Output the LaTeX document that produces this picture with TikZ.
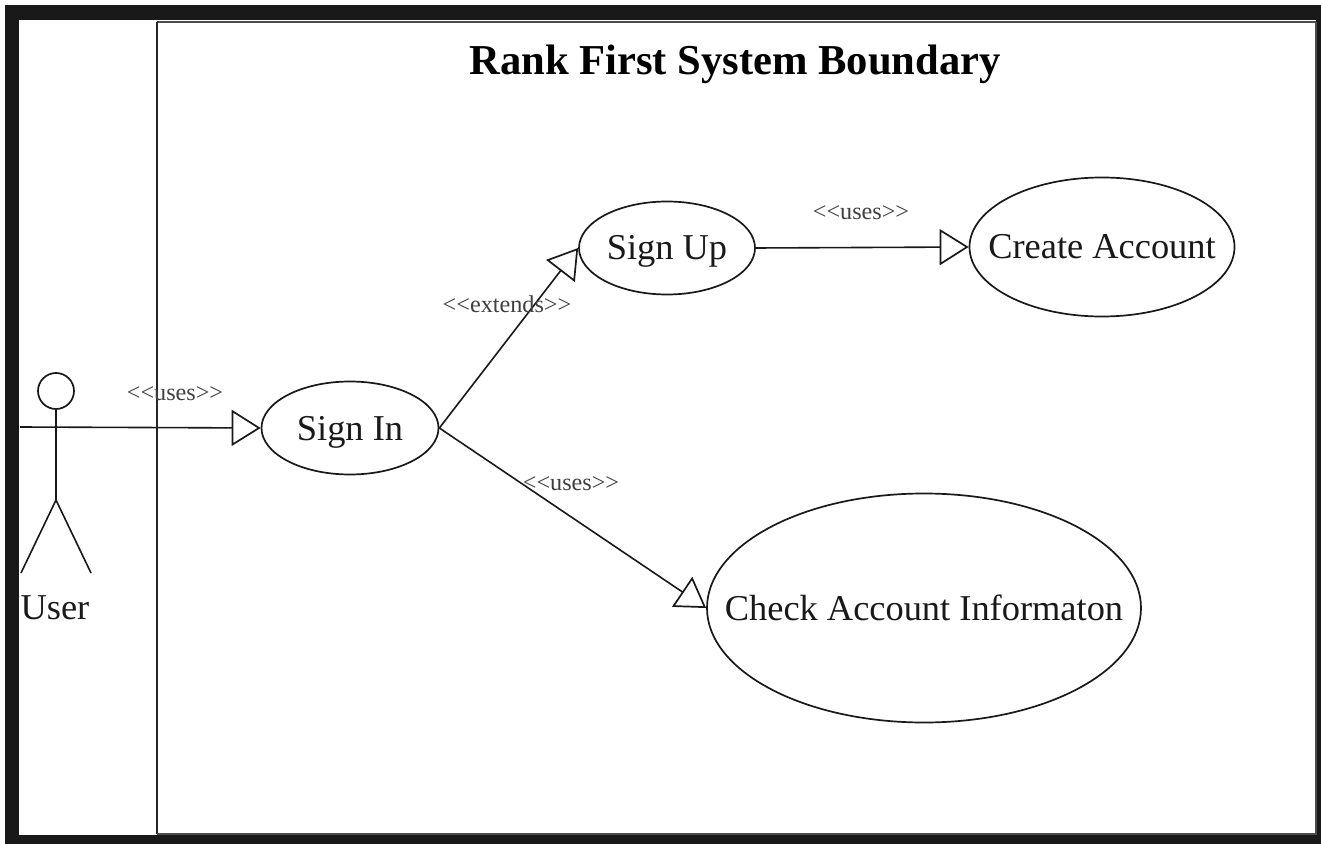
\documentclass[tikz,border=0pt]{standalone}
\usepackage{fontspec}
\setmainfont{Liberation Serif}
\usetikzlibrary{shapes.geometric,arrows.meta}
\tikzset{
 usecase/.style={draw=black!90,line width=0.85pt,ellipse,inner sep=0pt},
 lbl/.style={font=\fontsize{12.1}{13}\selectfont,text=black!75,inner sep=0pt},
 big/.style={font=\fontsize{18.2}{20}\selectfont,text=black!90,inner sep=0pt,text height=13pt,text depth=1pt},
 conn/.style={draw=black!90,line width=0.8pt,-{Triangle[open,fill=white,length=14.5pt,width=18pt,line width=0.85pt]}},
 stick/.style={draw=black!90,line width=0.8pt}
}
\begin{document}
\begin{tikzpicture}[x=0.5pt,y=-0.5pt]
\useasboundingbox (0,0) rectangle (1321,844);
\fill[white] (0,0) rectangle (1321,844);
\fill[black!90] (5,5) rectangle (1321,844);
\fill[white] (19,20) rectangle (1316,835);
\draw[line width=0.8pt,draw=black!70] (157,22) -- (1316,22);
\draw[line width=0.9pt,draw=black!85] (157,22) -- (157,834);
\draw[line width=0.9pt,draw=black!70] (157,834) -- (1316,834) -- (1316,22);
\node[font=\fontsize{21.3}{23}\selectfont\bfseries,inner sep=0pt] (title) at (735,64) {Rank First System Boundary};
% use cases
\node[usecase,minimum width=88.5pt,minimum height=46.5pt,label={[big]center:Sign In}] (signin) at (350,428) {};
\node[usecase,minimum width=88pt,minimum height=46.5pt,label={[big]center:Sign Up}] (signup) at (667,248) {};
\node[usecase,minimum width=132.5pt,minimum height=69.5pt,label={[big]center:Create Account}] (create) at (1102,247) {};
\node[usecase,minimum width=217pt,minimum height=114.5pt,label={[big]center:Check Account Informaton}] (check) at (924,608) {};
% actor
\node[draw=black!90,line width=0.85pt,circle,inner sep=0pt,minimum size=18pt] (head) at (56,391) {};
\coordinate (hip) at (56,500);
\coordinate (armL) at (20,427);
\coordinate (footL) at (21,573);
\coordinate (footR) at (91,573);
\draw[stick] (head) -- (hip);
\draw[stick] (footL) -- (hip) -- (footR);
\node[big,anchor=center] (user) at (55,607) {User};
% connectors
\draw[conn] (armL) -- (signin.west);
\draw[conn] (signin.east) -- (signup.west);
\draw[conn] (signin.east) -- (check.west);
\draw[conn] (signup.east) -- (create.west);
% labels
\node[lbl] (l1) at (175,394) {<{}<uses>{}>};
\node[lbl] (l2) at (507,304) {<{}<extends>{}>};
\node[lbl] (l3) at (571,484) {<{}<uses>{}>};
\node[lbl] (l4) at (861,213) {<{}<uses>{}>};
\end{tikzpicture}
\end{document}
